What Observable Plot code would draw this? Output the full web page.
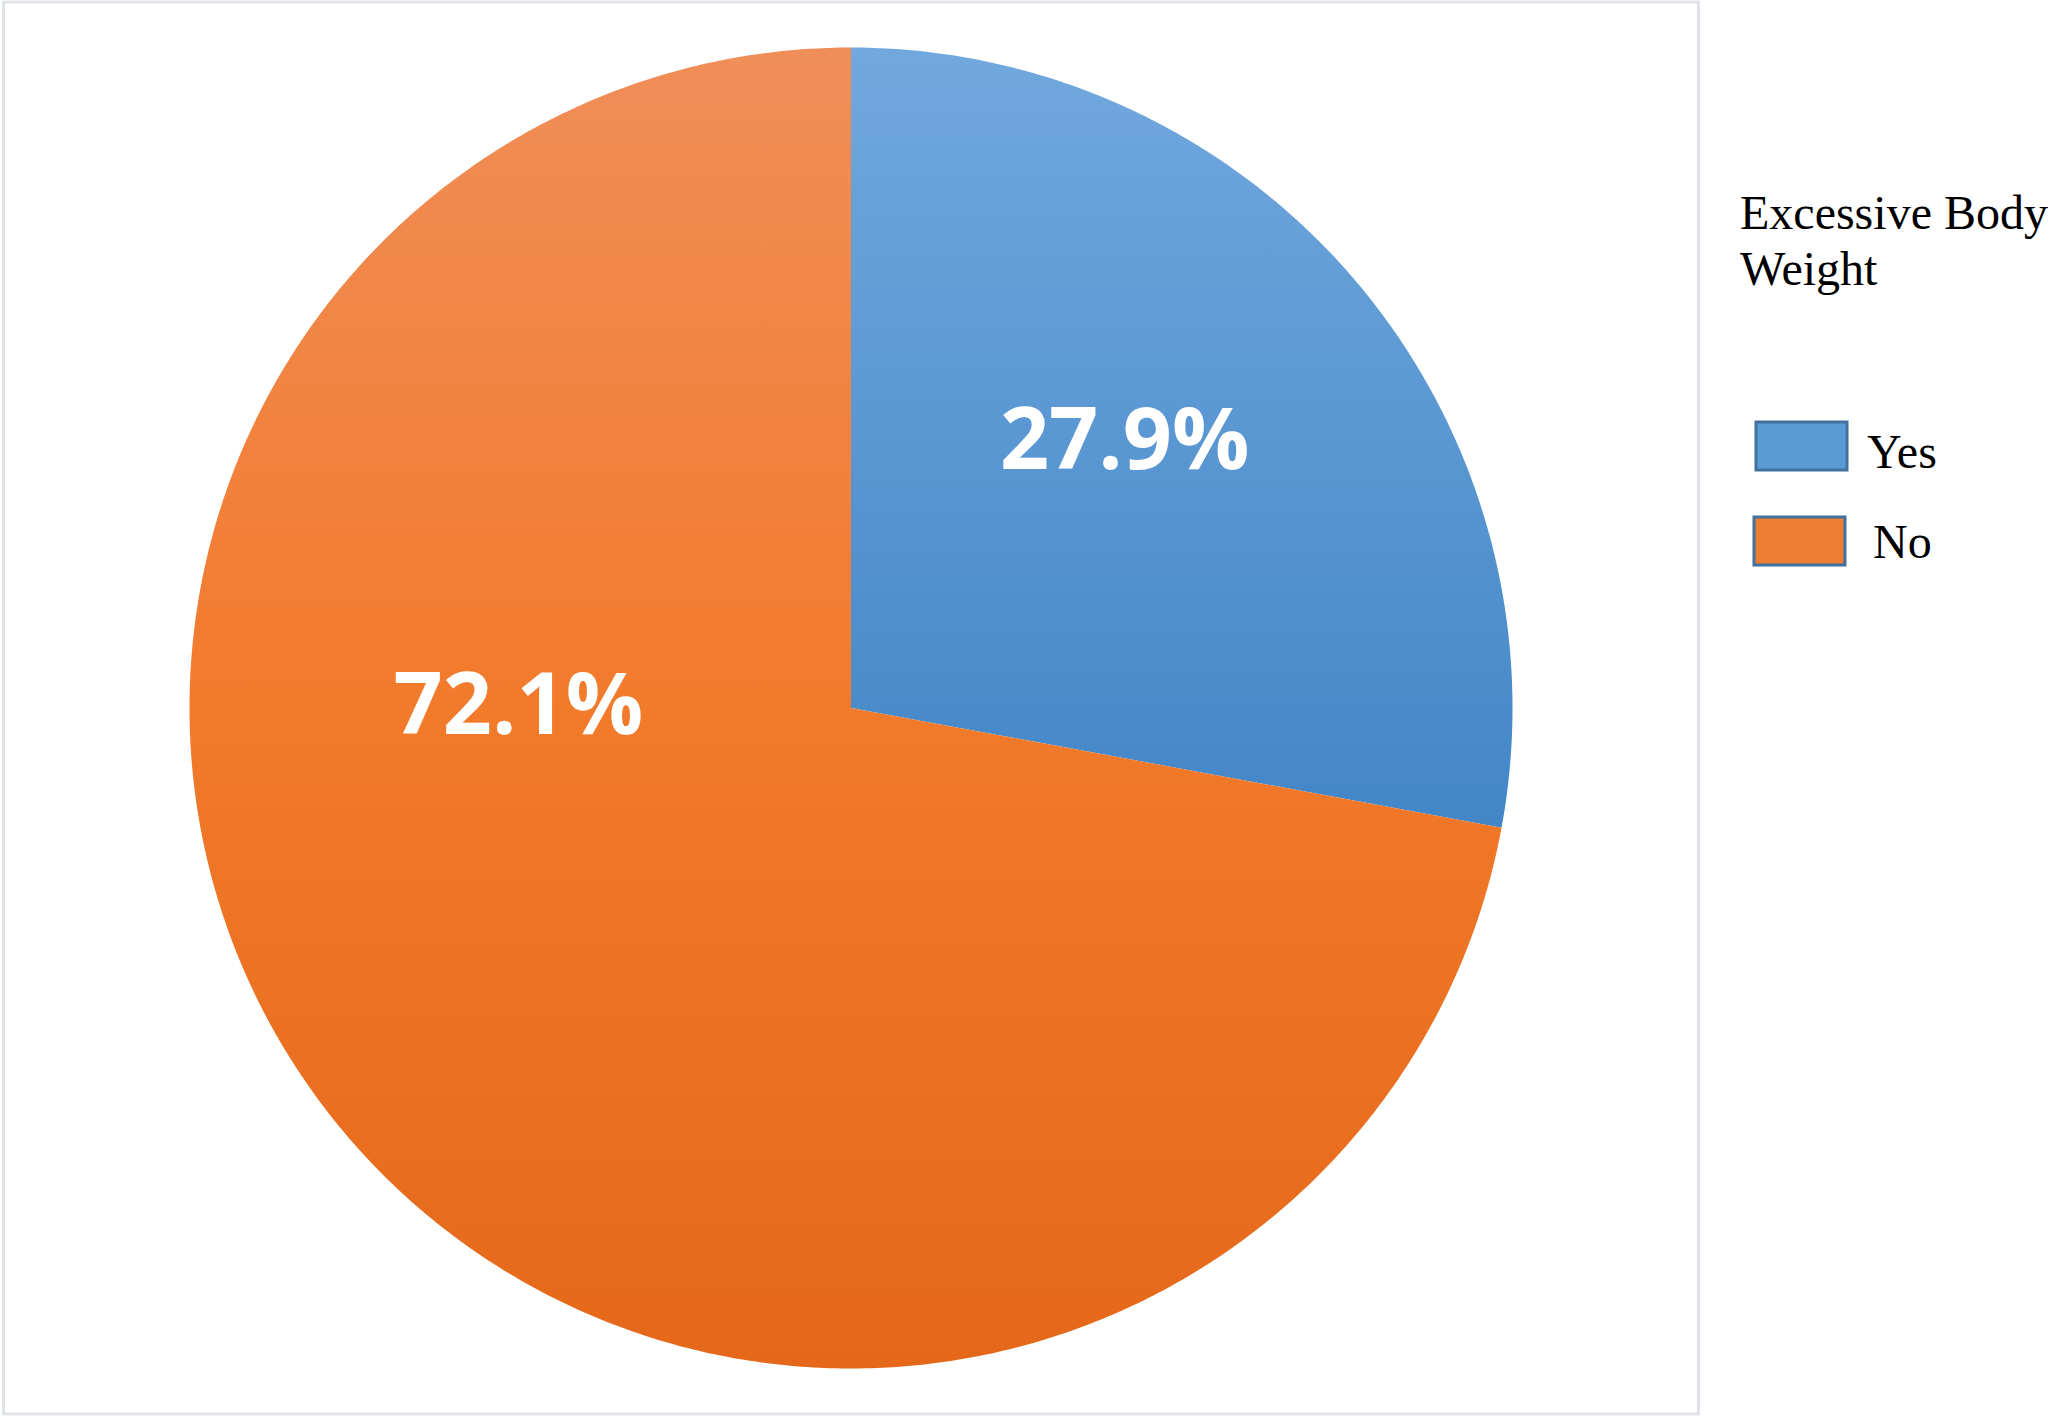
<!DOCTYPE html>
<html>
<head>
<meta charset="utf-8">
<script src="https://cdn.jsdelivr.net/npm/d3@7"></script>
<script src="https://cdn.jsdelivr.net/npm/@observablehq/plot@0.6"></script>
<style>
  html, body { margin: 0; padding: 0; background: #ffffff; }
  #chart { position: relative; width: 2060px; height: 1416px; }
</style>
</head>
<body>
<div id="chart"></div>
<script>
// ---- data ----
const categories = ["Yes", "No"];
const shares = [27.9, 72.1];
const labels = ["27.9%", "72.1%"];
const legendTitle = ["Excessive Body", "Weight"];

// ---- styling / layout (not data) ----
const W = 2060, H = 1416;
const gradients = {
  Yes: [["0%", "#71a8de"], ["100%", "#4386c7"]],
  No: [["0%", "#f08e59"], ["50%", "#f27a2b"], ["100%", "#e5681a"]]
};
const swatchFill = {Yes: "#5b9bd5", No: "#ed7d31"};
// label placement as [angle from top clockwise in degrees, radius fraction]
const labelPlacement = {Yes: [45.1, 0.584], No: [271.3, 0.503]};

// ---- pie geometry via d3.pie ----
const arcs = d3.pie().sort(null).value(d => d.value)(
  categories.map((c, i) => ({key: c, value: shares[i], label: labels[i]}))
);
function slicePolygon(a) {
  const pts = [{key: a.data.key, x: 0, y: 0}];
  const n = Math.max(2, Math.ceil((a.endAngle - a.startAngle) / (Math.PI / 360)));
  for (let k = 0; k <= n; k++) {
    const t = a.startAngle + (a.endAngle - a.startAngle) * k / n;
    pts.push({key: a.data.key, x: Math.sin(t), y: Math.cos(t)});
  }
  return pts;
}
const labelData = arcs.map(a => {
  const [deg, r] = labelPlacement[a.data.key];
  const t = deg * Math.PI / 180;
  return {key: a.data.key, label: a.data.label, x: r * Math.sin(t), y: r * Math.cos(t)};
});

const marks = arcs.map(a =>
  Plot.line(slicePolygon(a), {
    x: "x", y: "y", curve: "linear-closed",
    fill: `url(#grad-${a.data.key})`, stroke: "none"
  })
);
marks.push(Plot.text(labelData, {
  x: "x", y: "y", text: "label", dy: 6,
  fill: "white", fontSize: 86, fontWeight: "bold",
  fontFamily: "'Open Sans', 'Noto Sans', sans-serif"
}));

const svg = Plot.plot({
  width: W, height: H,
  marginLeft: 189, marginRight: 548, marginTop: 47, marginBottom: 48,
  x: {domain: [-1, 1], axis: null},
  y: {domain: [-1, 1], axis: null},
  style: {background: "white", overflow: "visible"},
  marks
});

const s = d3.select(svg);
const defs = s.insert("defs", ":first-child");
for (const key of categories) {
  const g = defs.append("linearGradient").attr("id", `grad-${key}`)
    .attr("x1", 0).attr("y1", 0).attr("x2", 0).attr("y2", 1);
  for (const [off, col] of gradients[key]) g.append("stop").attr("offset", off).attr("stop-color", col);
}

// frame
s.append("rect").attr("x", 3.5).attr("y", 2).attr("width", 1695).attr("height", 1412)
  .attr("fill", "none").attr("stroke", "#dfe3e8").attr("stroke-width", 3);

// legend
const lg = s.append("g").attr("font-family", "'Liberation Serif', 'Times New Roman', serif")
  .attr("font-size", 48).attr("fill", "#000").attr("text-anchor", "start");
legendTitle.forEach((t, i) => lg.append("text").attr("x", 1740).attr("y", 229 + i * 56).text(t));
const swY = [422, 517], txX = [1867, 1873], txY = [468, 558], swX = [1756, 1754];
categories.forEach((c, i) => {
  lg.append("rect").attr("x", swX[i]).attr("y", swY[i]).attr("width", 91).attr("height", 48)
    .attr("fill", swatchFill[c]).attr("stroke", "#41719c").attr("stroke-width", 3);
  lg.append("text").attr("x", txX[i]).attr("y", txY[i]).text(c);
});

document.getElementById("chart").appendChild(svg);
</script>
</body>
</html>
